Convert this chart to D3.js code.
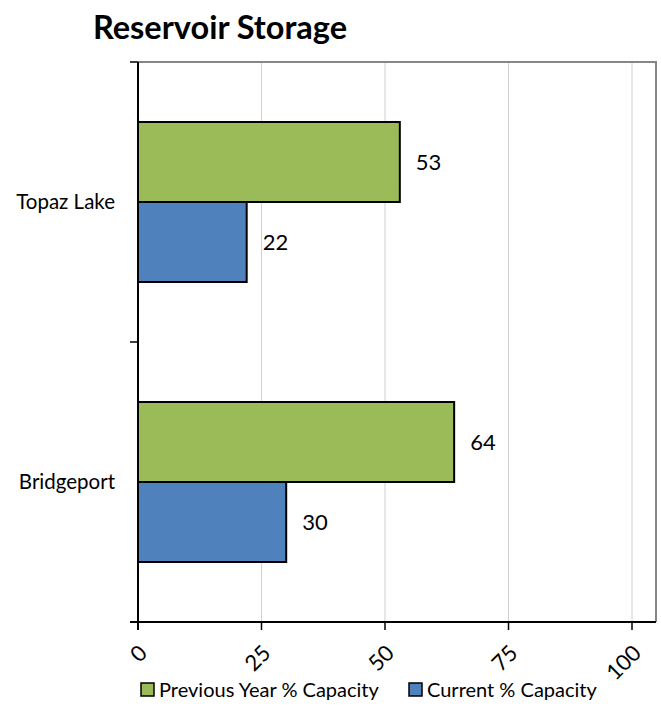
<!DOCTYPE html>
<head>
  <meta charset="utf-8">
  <script src="https://d3js.org/d3.v7.min.js"></script>
  <style>
    body { margin:0; background:#fff; }
    text { font-family: Lato, "Open Sans", sans-serif; fill:#000; }
  </style>
</head>
<body>
  <script>
    var width = 661, height = 708;

    var reservoirs = ["Topaz Lake", "Bridgeport"];
    var seriesNames = ["Previous Year % Capacity", "Current % Capacity"];
    var previousYear = [53, 64];
    var current = [22, 30];
    var xTicks = [0, 25, 50, 75, 100];
    var colors = ["#9bbb59", "#4f81bd"];

    var plotLeft = 138, plotTop = 62, plotBottom = 622, plotRight = 656;

    var svg = d3.select("body").append("svg")
      .attr("width", width)
      .attr("height", height);

    svg.append("text")
      .attr("x", 220).attr("y", 39)
      .attr("text-anchor", "middle")
      .style("font-size", "32.5px").style("font-weight", "bold")
      .text("Reservoir Storage");

    var x = d3.scaleLinear().domain([0, 100]).range([plotLeft, 632]);
    var y = d3.scaleBand().domain(reservoirs).range([plotTop, plotBottom]);
    var inner = d3.scaleBand().domain([0, 1]).range([0, y.bandwidth()]).paddingOuter(0.75);

    // gridlines
    svg.selectAll("line.grid").data(xTicks.slice(1))
      .enter().append("line")
      .attr("x1", d => x(d)).attr("x2", d => x(d))
      .attr("y1", plotTop).attr("y2", plotBottom)
      .style("stroke", "#d0d0d0").style("stroke-width", 1);

    // plot border (top, right)
    svg.append("path")
      .attr("d", "M" + plotLeft + "," + plotTop + "H" + plotRight + "V" + plotBottom)
      .style("fill", "none").style("stroke", "#868686").style("stroke-width", 2);

    var data = [];
    reservoirs.forEach(function(r, i) {
      data.push({cat: r, s: 0, v: previousYear[i]});
      data.push({cat: r, s: 1, v: current[i]});
    });

    svg.selectAll("rect.bar").data(data)
      .enter().append("rect")
      .attr("x", x(0))
      .attr("y", d => y(d.cat) + inner(d.s))
      .attr("width", d => x(d.v) - x(0))
      .attr("height", inner.bandwidth())
      .style("fill", d => colors[d.s])
      .style("stroke", "#000").style("stroke-width", 2);

    svg.selectAll("text.lab").data(data)
      .enter().append("text")
      .attr("x", d => x(d.v) + 16)
      .attr("y", d => y(d.cat) + inner(d.s) + inner.bandwidth() / 2)
      .attr("dy", "0.35em")
      .style("font-size", "22px")
      .text(d => d.v);

    // left axis
    var yAxis = svg.append("g").attr("transform", "translate(" + plotLeft + ",0)");
    yAxis.append("line").attr("y1", plotTop).attr("y2", plotBottom + 8)
      .style("stroke", "#000").style("stroke-width", 2);
    yAxis.selectAll("line.t").data([plotTop, plotTop + y.step(), plotBottom])
      .enter().append("line")
      .attr("x1", -8).attr("x2", 0).attr("y1", d => d).attr("y2", d => d)
      .style("stroke", "#000").style("stroke-width", 1.5);
    yAxis.selectAll("text").data(reservoirs)
      .enter().append("text")
      .attr("x", -23)
      .attr("y", d => y(d) + y.bandwidth() / 2)
      .attr("dy", "0.35em")
      .attr("text-anchor", "end")
      .style("font-size", "20.5px")
      .text(d => d);

    // bottom axis
    var xAxis = svg.append("g").attr("transform", "translate(0," + plotBottom + ")");
    xAxis.append("line").attr("x1", plotLeft - 8).attr("x2", plotRight)
      .style("stroke", "#000").style("stroke-width", 2);
    xAxis.selectAll("line.t").data(xTicks)
      .enter().append("line")
      .attr("x1", d => x(d)).attr("x2", d => x(d)).attr("y1", 0).attr("y2", 8)
      .style("stroke", "#000").style("stroke-width", 1.5);
    xAxis.selectAll("text").data(xTicks)
      .enter().append("text")
      .attr("transform", d => "translate(" + (x(d) + 5) + ",27) rotate(-45)")
      .attr("text-anchor", "end")
      .attr("dy", "0.35em")
      .style("font-size", "22px")
      .text(d => d);

    // legend
    var legX = [141, 409];
    var leg = svg.selectAll("g.leg").data(seriesNames)
      .enter().append("g")
      .attr("transform", (d, i) => "translate(" + legX[i] + ",683)");
    leg.append("rect")
      .attr("width", 13).attr("height", 13)
      .style("fill", (d, i) => colors[i])
      .style("stroke", "#000").style("stroke-width", 1.5);
    leg.append("text")
      .attr("x", 18).attr("y", 7).attr("dy", "0.35em")
      .style("font-size", "20px")
      .text(d => d);
  </script>
</body>
